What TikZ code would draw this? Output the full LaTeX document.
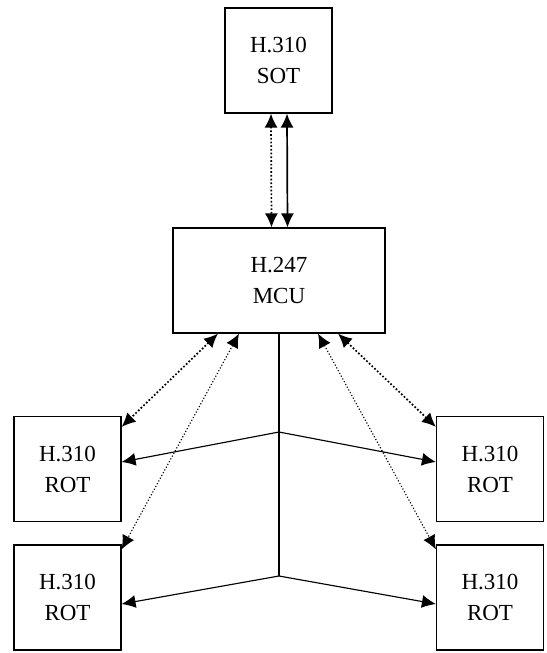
\documentclass[tikz,border=0pt]{standalone}
\usepackage{fontspec}
\setmainfont{Liberation Serif}
\usetikzlibrary{arrows.meta}
\begin{document}
\begin{tikzpicture}[x=0.5pt,y=-0.5pt,
		box/.style={draw, line width = 0.2mm, minimum width=53.5pt, minimum height=52.5pt, align=center, inner sep=0pt, font=\fontsize{11.5}{15.5}\selectfont},
		tip/.style={-{Latex[length=7pt,width=6.5pt]}},
		both/.style={{Latex[length=7pt,width=6.5pt]}-{Latex[length=7pt,width=6.5pt]}}]
		
		\useasboundingbox (0,0) rectangle (546,653);
		
		\node[box] (sot) at (278.5,60.5) {H.310\\SOT};
		\node[box, minimum width=106pt] (mcu) at (279,280.5) {H.247\\MCU};
		
		\node[box] (rotlt) at (67.5,469) {H.310\\ROT};
		\node[box] (rotlb) at (67.5,597.5) {H.310\\ROT};
		\node[box] (rotrt) at (490,469) {H.310\\ROT};
		\node[box] (rotrb) at (490,597.5) {H.310\\ROT};
		
		\coordinate (jtop) at (279,432);
		\coordinate (jbot) at (279,576);
		
		\draw[both, line width = 0.3mm, densely dotted] ([xshift=-3.75pt]sot.south) -- ([xshift=-3.75pt]mcu.north);
		\draw[both, line width = 0.3mm] ([xshift=4.25pt]sot.south) -- ([xshift=4.25pt]mcu.north);
		
		\draw[line width = 0.2mm] (mcu.south) -- (jbot);
		\draw[tip, line width = 0.2mm] (jtop) -- ([yshift=3.5pt]rotlt.east);
		\draw[tip, line width = 0.2mm] (jtop) -- ([yshift=3.5pt]rotrt.west);
		\draw[tip, line width = 0.2mm] (jbot) -- ([yshift=-3.25pt]rotlb.east);
		\draw[tip, line width = 0.2mm] (jbot) -- ([yshift=-3.25pt]rotrb.west);
		
		\draw[both, line width = 0.3mm, densely dotted] ([xshift=-30.5pt]mcu.south) -- ([yshift=-5.5pt]rotlt.north east);
		\draw[both, line width = 0.3mm, densely dotted] ([xshift=29.5pt]mcu.south) -- ([yshift=-5.5pt]rotrt.north west);
		\draw[both, line width = 0.2mm, densely dotted] ([xshift=-20pt]mcu.south) -- ([yshift=-2.5pt]rotlb.north east);
		\draw[both, line width = 0.2mm, densely dotted] ([xshift=19.5pt]mcu.south) -- ([yshift=-2.5pt]rotrb.north west);
	
	\end{tikzpicture}
\end{document}
